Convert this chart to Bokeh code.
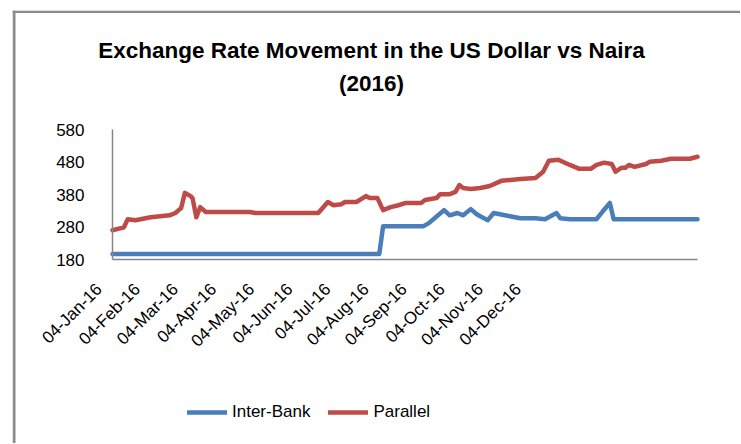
from bokeh.plotting import figure
from bokeh.models import FixedTicker, Legend, LegendItem, Range1d, Label, Span, LinearAxis
from bokeh.embed import file_html
from bokeh.resources import INLINE

# ---------------- data (x = point index, 20 points per tick-label step) ----------------
tick_labels = ["04-Jan-16", "04-Feb-16", "04-Mar-16", "04-Apr-16", "04-May-16", "04-Jun-16",
               "04-Jul-16", "04-Aug-16", "04-Sep-16", "04-Oct-16", "04-Nov-16", "04-Dec-16"]
tick_step = 20
last_index = 307

parallel_x = [0, 6, 8, 12, 20, 25, 30, 33, 36, 38, 41, 42, 44, 46, 49, 72, 75, 108, 113, 116,
              120, 122, 128, 133, 135, 139, 142, 146, 150, 154, 162, 164, 170, 172, 177, 180,
              182, 184, 188, 193, 198, 204, 214, 222, 226, 229, 234, 240, 245, 251, 254, 258,
              262, 264, 267, 269, 271, 274, 280, 282, 288, 293, 303, 307]
parallel_y = [270, 279, 304, 301, 310, 313, 316, 323, 338, 385, 375, 369, 310, 341, 326, 326,
              323, 323, 357, 347, 350, 357, 357, 375, 369, 369, 332, 341, 347, 354, 354, 363,
              369, 381, 381, 388, 409, 400, 397, 400, 406, 422, 428, 431, 450, 484, 487, 471,
              459, 459, 471, 478, 474, 450, 462, 462, 471, 465, 474, 481, 484, 490, 490, 496]

interbank_x = [0, 140, 142, 163, 166, 169, 174, 177, 181, 184, 188, 191, 193, 197, 200, 206,
               214, 222, 227, 233, 235, 240, 254, 257, 261, 263, 307]
interbank_y = [197, 197, 282, 282, 292, 307, 332, 316, 323, 316, 335, 320, 313, 301, 323, 316,
               307, 307, 304, 323, 307, 304, 304, 326, 354, 304, 304]

y_ticks = [180, 280, 380, 480, 580]

title_line1 = "Exchange Rate Movement in the US Dollar vs Naira"
title_line2 = "(2016)"

# ---------------- layout / style ----------------
FONT = "Liberation Sans"
BLUE = "#4A7EBB"
RED = "#BE4B48"
GRAY = "#8c8c8c"
AXIS_GRAY = "#868686"

W, H = 740, 443            # canvas
FR_L, FR_T = 12, 10        # frame offset inside canvas (chart border position)
# plot-area placement (canvas pixels)
AX_L, AX_R = 112, 697      # x of first / last point
AX_T, AX_B = 129, 259      # y of 580 / 180
Y_LO, Y_HI = y_ticks[0], y_ticks[-1]

ppx = (AX_R - AX_L) / last_index
ppy = (AX_B - AX_T) / (Y_HI - Y_LO)
x_start = -(AX_L - FR_L) / ppx
x_end = last_index + (W - AX_R) / ppx
y_end = Y_HI + (AX_T - FR_T) / ppy
y_start = Y_LO - (H - AX_B) / ppy


def dx(cx):
    return x_start + (cx - FR_L) / ppx


def dy(cy):
    return y_end - (cy - FR_T) / ppy


p = figure(width=W, height=H, output_backend="svg", toolbar_location=None,
           x_range=Range1d(x_start, x_end), y_range=Range1d(y_start, y_end),
           min_border_left=FR_L, min_border_right=0, min_border_top=FR_T, min_border_bottom=0)
p.outline_line_color = None
p.grid.visible = False

r_ib = p.line(interbank_x, interbank_y, line_color=BLUE, line_width=4.5,
              line_join="round", line_cap="round")
r_par = p.line(parallel_x, parallel_y, line_color=RED, line_width=4.5,
               line_join="round", line_cap="round")

# y axis crossing at the first point
p.yaxis.fixed_location = 0
p.yaxis.bounds = (Y_LO, Y_HI)
p.yaxis.ticker = FixedTicker(ticks=y_ticks)
p.yaxis.major_label_standoff = 28

# x axis line crossing at 180 (labels drawn by a second axis)
p.xaxis.fixed_location = Y_LO
p.xaxis.bounds = (0, last_index)
p.xaxis.ticker = FixedTicker(ticks=[])

label_offset = -7  # Excel-style label anchoring
label_ticks = [i * tick_step + label_offset for i in range(len(tick_labels))]
xlab = LinearAxis(fixed_location=Y_LO, bounds=(label_ticks[0], last_index),
                  ticker=FixedTicker(ticks=label_ticks),
                  major_label_overrides={t: lab for t, lab in zip(label_ticks, tick_labels)},
                  major_label_orientation=0.785398, major_label_standoff=27,
                  axis_line_color=None)
p.add_layout(xlab, "below")

for ax in (p.xaxis[0], p.yaxis[0], xlab):
    ax.major_tick_out = 0
    ax.major_tick_in = 0
    ax.minor_tick_out = 0
    ax.minor_tick_in = 0
    ax.major_label_text_font = FONT
    ax.major_label_text_font_size = "17px"
    ax.major_label_text_color = "#000000"
for ax in (p.xaxis[0], p.yaxis[0]):
    ax.axis_line_color = AXIS_GRAY
    ax.axis_line_width = 1.5

# chart border (left / top)
p.add_layout(Span(location=dx(FR_L + 1.5), dimension="height", line_color=GRAY, line_width=3))
p.add_layout(Span(location=dy(FR_T + 1.2), dimension="width", line_color=GRAY, line_width=2.5))

# title
for txt, cy in ((title_line1, 50), (title_line2, 83)):
    p.add_layout(Label(x=dx(371), y=dy(cy), text=txt, text_align="center",
                       text_baseline="middle", text_font=FONT, text_font_size="22.5px",
                       text_font_style="bold", text_color="#000000"))

legend = Legend(items=[LegendItem(label="Inter-Bank", renderers=[r_ib]),
                       LegendItem(label="Parallel", renderers=[r_par])],
                orientation="horizontal", location=(175, 21),
                glyph_width=40, glyph_height=20, label_standoff=5, spacing=18,
                padding=0, margin=0, border_line_color=None, background_fill_alpha=0,
                label_text_font=FONT, label_text_font_size="17px", label_text_color="#000000")
p.add_layout(legend, "center")

open("out.html", "w").write(file_html(p, INLINE))
